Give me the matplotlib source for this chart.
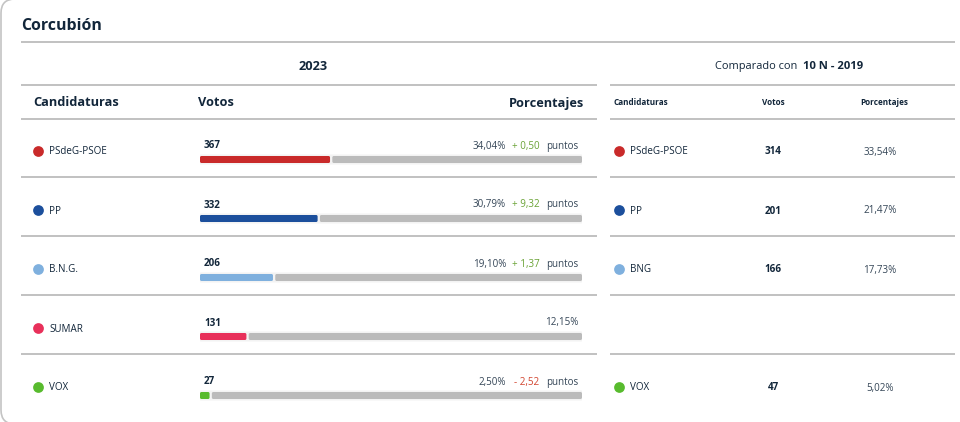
import matplotlib
matplotlib.use('Agg')
import matplotlib.pyplot as plt
from matplotlib.patches import FancyBboxPatch

plt.rcParams['font.family'] = ['Open Sans', 'DejaVu Sans']

# datos 2023
partidos = ['PSdeG-PSOE', 'PP', 'B.N.G.', 'SUMAR', 'VOX']
votos = [367, 332, 206, 131, 27]
porcentajes = [34.04, 30.79, 19.10, 12.15, 2.50]
pct_labels = ['34,04%', '30,79%', '19,10%', '12,15%', '2,50%']
dif_labels = ['+ 0,50', '+ 9,32', '+ 1,37', None, '- 2,52']
colores = ['#c92a2a', '#1c4f9c', '#7fb0de', '#e8305a', '#58bb2e']

# datos 10 N - 2019
partidos_19 = ['PSdeG-PSOE', 'PP', 'BNG', None, 'VOX']
votos_19 = ['314', '201', '166', None, '47']
pct_19 = ['33,54%', '21,47%', '17,73%', None, '5,02%']

oscuro = '#12263a'
gris_linea = '#bcbcbc'
verde = '#6aa336'
rojo = '#d2452f'

fig = plt.figure(figsize=(9.6, 4.22), dpi=100)
ax = fig.add_axes([0, 0, 1, 1])
ax.set_xlim(0, 960)
ax.set_ylim(422, 0)
ax.axis('off')

# tarjeta, los bordes de arriba y abajo quedan casi fuera
ax.add_patch(FancyBboxPatch((1, -1), 1000, 425, boxstyle='round,pad=0,rounding_size=14',
                            fc='white', ec='#c4c4c4', lw=1.2, zorder=0))

# lineas de la tabla
ax.hlines(42, 21, 955, color=gris_linea, lw=1.3)
for y in [85, 119, 177, 236, 295, 354]:
    ax.hlines(y, 21, 597, color=gris_linea, lw=1.3)
    ax.hlines(y, 610, 955, color=gris_linea, lw=1.3)

ax.text(21, 26, 'Corcubión', fontsize=11.4, fontweight='bold', color=oscuro, va='center')
ax.text(313, 66, '2023', fontsize=9.2, fontweight='bold', color=oscuro, ha='center', va='center')
ax.text(715, 66.5, 'Comparado con', fontsize=7.9, color=oscuro, va='center')
ax.text(803, 66.5, '10 N - 2019', fontsize=8.1, fontweight='bold', color=oscuro, va='center')

ax.text(33, 103, 'Candidaturas', fontsize=9.2, fontweight='bold', color=oscuro, va='center')
ax.text(198, 103, 'Votos', fontsize=9.2, fontweight='bold', color=oscuro, va='center')
ax.text(584, 103, 'Porcentajes', fontsize=9.2, fontweight='bold', color=oscuro, ha='right', va='center')

ax.text(614, 102.5, 'Candidaturas', fontsize=5.9, fontweight='bold', color=oscuro, va='center')
ax.text(773, 102.5, 'Votos', fontsize=5.9, fontweight='bold', color=oscuro, ha='center', va='center')
ax.text(884, 102.5, 'Porcentajes', fontsize=5.9, fontweight='bold', color=oscuro, ha='center', va='center')

# barras: eje propio en porcentaje (3.82 px por punto)
ax_bar = fig.add_axes([200 / 960, 0, 382 / 960, 1])
ax_bar.set_xlim(0, 100)
ax_bar.set_ylim(422, 0)
ax_bar.axis('off')
ax_bar.patch.set_alpha(0)


def barra(x0, ancho, yb, alto, color, z):
    ax_bar.add_patch(FancyBboxPatch((x0, yb - alto / 2), ancho, alto,
                                    boxstyle='round,pad=0,rounding_size=0.4', mutation_aspect=3.82,
                                    fc=color, ec='none', zorder=z))


alto_fila = 59
hueco = 0.6
for i in range(len(partidos)):
    yc = 151 + i * alto_fila
    yb = yc + 8.5
    yt = yc + 1

    ax.scatter([38], [yc], s=60, color=colores[i], zorder=3, linewidths=0)
    ax.text(49, yt, partidos[i], fontsize=7.1, color=oscuro, va='center')

    ax.text(204, yt - 6, str(votos[i]), fontsize=7.1, fontweight='bold', color=oscuro, va='center')

    # halo claro, parte gris y parte de color
    barra(-0.3, 100.6, yb, 10, '#f3f3f3', 1)
    barra(porcentajes[i] + hueco, 100 - porcentajes[i] - hueco, yb, 7, '#bbbbbb', 2)
    barra(0, porcentajes[i], yb, 7, colores[i], 3)

    # porcentaje y diferencia alineados a la derecha
    if dif_labels[i] is None:
        ax.text(578, yt - 6, pct_labels[i], fontsize=7.1, color=oscuro, alpha=0.85, ha='right', va='center')
    else:
        ax.text(578, yt - 6, 'puntos', fontsize=7.1, color=oscuro, alpha=0.85, ha='right', va='center')
        color_dif = verde if dif_labels[i].startswith('+') else rojo
        ax.text(539.5, yt - 6, dif_labels[i], fontsize=7.1, color=color_dif, ha='right', va='center')
        ax.text(506, yt - 6, pct_labels[i], fontsize=7.1, color=oscuro, alpha=0.85, ha='right', va='center')

    # columna 2019
    if partidos_19[i] is not None:
        ax.scatter([619], [yc], s=60, color=colores[i], zorder=3, linewidths=0)
        ax.text(630, yt, partidos_19[i], fontsize=7.1, color=oscuro, va='center')
        ax.text(773, yt, votos_19[i], fontsize=7.1, fontweight='bold', color=oscuro, ha='center', va='center')
        ax.text(880, yt, pct_19[i], fontsize=7.1, color=oscuro, alpha=0.85, ha='center', va='center')

fig.savefig('out.png', dpi=100)
